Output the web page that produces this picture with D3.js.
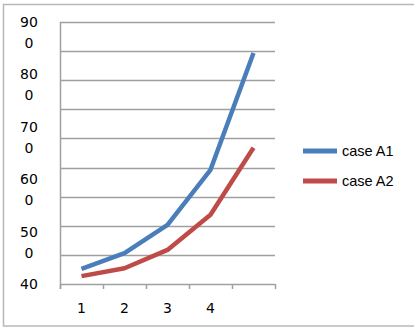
<!DOCTYPE html>
<html><head><meta charset="utf-8">
<script src="https://cdn.jsdelivr.net/npm/d3@7"></script>
<style>body{margin:0;background:#fff}svg{display:block}</style>
</head><body><svg id="c" width="414" height="327"></svg>
<script>
const categories = ["1","2","3","4",""];
const seriesA1 = [429, 459, 513, 618, 841];
const seriesA2 = [415, 430, 465, 532, 660];
const seriesNames = ["case A1","case A2"];
const yTickLabels = ["900","800","700","600","500","400"];
const yTickValues = [900,800,700,600,500,400];
const colors = ["#4A7EBB","#BE4B48"];

const svg = d3.select("#c");
const font = "'DejaVu Sans', Verdana, sans-serif";
svg.append("rect").attr("x",3.5).attr("y",4.5).attr("width",420).attr("height",321.5)
  .attr("fill","#fff").attr("stroke","#b8b8b8").attr("stroke-width",1.5);

const x = d3.scaleBand().domain(d3.range(categories.length)).range([60,275]);
const y = d3.scaleLinear().domain([400,900]).range([284,22]);

// gridlines (10 evenly spaced lines)
const grid = d3.range(10).map(i => 400 + i*(500/9));
svg.append("g").selectAll("line").data(grid).join("line")
  .attr("x1",60).attr("x2",275).attr("y1",d=>Math.round(y(d))+0.5).attr("y2",d=>Math.round(y(d))+0.5)
  .attr("stroke","#a0a0a0").attr("stroke-width",1.5);

// y axis line
svg.append("line").attr("x1",60.5).attr("x2",60.5).attr("y1",22).attr("y2",289)
  .attr("stroke","#a0a0a0").attr("stroke-width",1.5);
// x ticks
svg.append("g").selectAll("line").data(d3.range(categories.length+1)).join("line")
  .attr("x1",d=>60.5+d*x.bandwidth()).attr("x2",d=>60.5+d*x.bandwidth())
  .attr("y1",284).attr("y2",289).attr("stroke","#a0a0a0").attr("stroke-width",1.5);

// x labels
svg.append("g").selectAll("text").data(categories).join("text")
  .attr("x",(d,i)=>x(i)+x.bandwidth()/2).attr("y",313)
  .attr("text-anchor","middle").attr("font-family",font).attr("font-size",14).attr("fill","#000")
  .text(d=>d);

// y labels (wrapped: first part on one line, last digit below)
svg.append("clipPath").attr("id","yclip").append("rect").attr("x",0).attr("y",0).attr("width",60).attr("height",297);
const yl = svg.append("g").attr("clip-path","url(#yclip)");
yTickLabels.forEach((t,i)=>{
  const yy = y(yTickValues[i]);
  const g = yl.append("text").attr("font-family",font).attr("font-size",14).attr("fill","#000").attr("text-anchor","middle");
  g.append("tspan").attr("x",29).attr("y",yy+5).text(t.slice(0,2));
  g.append("tspan").attr("x",29).attr("y",yy+26).text(t.slice(2));
});

// lines
const line = d3.line().x((d,i)=>x(i)+x.bandwidth()/2).y(d=>y(d));
[seriesA1, seriesA2].forEach((s,k)=>{
  svg.append("path").datum(s).attr("d",line).attr("fill","none")
    .attr("stroke",colors[k]).attr("stroke-width",4.5).attr("stroke-linejoin","round");
});

// legend
seriesNames.forEach((n,k)=>{
  const ly = 151 + k*30;
  svg.append("line").attr("x1",303).attr("x2",337).attr("y1",ly).attr("y2",ly)
    .attr("stroke",colors[k]).attr("stroke-width",5);
  svg.append("text").attr("x",342).attr("y",ly+5).attr("font-family","'Liberation Sans', Arial, sans-serif")
    .attr("font-size",14.5).attr("fill","#000").text(n);
});
</script></body></html>
